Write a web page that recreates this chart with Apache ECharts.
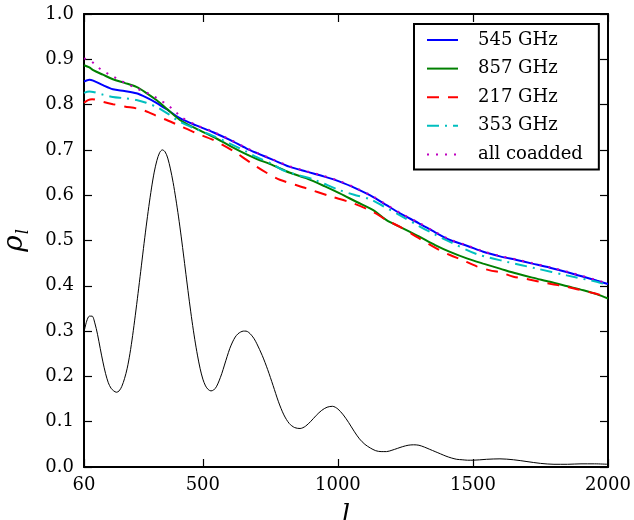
<!DOCTYPE html>
<html>
<head>
<meta charset="utf-8">
<script src="https://cdn.jsdelivr.net/npm/echarts@6/dist/echarts.min.js"></script>
<style>
  html, body { margin: 0; padding: 0; background: #fff; }
  #chart { width: 634px; height: 520px; }
</style>
</head>
<body>
<div id="chart"></div>
<script>
// ---- Data ----
const xTicks = [60, 500, 1000, 1500, 2000];
const yTicks = [0.0, 0.1, 0.2, 0.3, 0.4, 0.5, 0.6, 0.7, 0.8, 0.9, 1.0];

// Thin black reference curve (scaled power spectrum)
const lBlack = [60, 70, 80, 90, 100, 110, 120, 130, 140, 150, 160, 170, 180, 190, 200, 210, 220, 230, 240, 250, 260, 270, 280, 290, 300, 310, 320, 330, 340, 350, 360, 370, 380, 390, 400, 410, 420, 430, 440, 450, 460, 470, 480, 490, 500, 510, 520, 530, 540, 550, 560, 570, 580, 590, 600, 610, 620, 630, 640, 650, 660, 670, 680, 690, 700, 720, 740, 760, 780, 800, 820, 840, 860, 880, 900, 920, 940, 960, 980, 1000, 1020, 1040, 1060, 1080, 1100, 1120, 1140, 1160, 1180, 1200, 1220, 1240, 1260, 1280, 1300, 1320, 1340, 1360, 1380, 1400, 1420, 1440, 1460, 1480, 1500, 1550, 1600, 1650, 1700, 1750, 1800, 1850, 1900, 1950, 2000];
const vBlack = [0.298, 0.322, 0.333, 0.333, 0.318, 0.293, 0.262, 0.232, 0.206, 0.186, 0.174, 0.168, 0.165, 0.168, 0.178, 0.195, 0.218, 0.250, 0.290, 0.335, 0.383, 0.432, 0.482, 0.530, 0.575, 0.616, 0.651, 0.677, 0.694, 0.700, 0.696, 0.682, 0.658, 0.628, 0.592, 0.552, 0.508, 0.461, 0.413, 0.366, 0.322, 0.282, 0.247, 0.217, 0.194, 0.179, 0.171, 0.168, 0.170, 0.177, 0.190, 0.206, 0.225, 0.244, 0.262, 0.276, 0.287, 0.294, 0.298, 0.300, 0.300, 0.297, 0.291, 0.283, 0.272, 0.246, 0.215, 0.180, 0.144, 0.115, 0.096, 0.087, 0.085, 0.090, 0.101, 0.114, 0.125, 0.132, 0.134, 0.128, 0.115, 0.098, 0.079, 0.062, 0.050, 0.042, 0.036, 0.034, 0.034, 0.037, 0.041, 0.045, 0.048, 0.049, 0.048, 0.044, 0.039, 0.034, 0.029, 0.024, 0.020, 0.017, 0.016, 0.015, 0.015, 0.017, 0.018, 0.016, 0.012, 0.008, 0.006, 0.006, 0.007, 0.007, 0.006];

// 545 GHz
const l545 = [60, 80, 94, 130, 167, 210, 254, 290, 328, 370, 415, 475, 538, 600, 662, 700, 760, 820, 884, 950, 1007, 1070, 1131, 1180, 1230, 1300, 1360, 1415, 1480, 1538, 1600, 1662, 1720, 1785, 1850, 1909, 1960, 2000];
const rho545 = [0.851, 0.855, 0.853, 0.843, 0.834, 0.830, 0.825, 0.816, 0.804, 0.788, 0.770, 0.754, 0.739, 0.722, 0.703, 0.693, 0.678, 0.663, 0.652, 0.641, 0.630, 0.614, 0.596, 0.578, 0.560, 0.538, 0.518, 0.501, 0.488, 0.475, 0.465, 0.457, 0.449, 0.440, 0.430, 0.420, 0.411, 0.404];

// 857 GHz
const l857 = [60, 80, 94, 130, 167, 210, 254, 290, 328, 370, 415, 475, 538, 600, 662, 700, 760, 820, 884, 950, 1007, 1070, 1131, 1180, 1230, 1300, 1360, 1415, 1480, 1538, 1600, 1662, 1720, 1785, 1850, 1909, 1960, 2000];
const rho857 = [0.887, 0.882, 0.876, 0.866, 0.856, 0.848, 0.839, 0.826, 0.810, 0.789, 0.766, 0.747, 0.729, 0.709, 0.690, 0.680, 0.666, 0.650, 0.637, 0.620, 0.604, 0.585, 0.567, 0.545, 0.530, 0.509, 0.490, 0.475, 0.460, 0.449, 0.438, 0.427, 0.418, 0.409, 0.399, 0.390, 0.381, 0.372];

// 217 GHz
const l217 = [60, 75, 90, 130, 167, 210, 267, 300, 328, 370, 415, 475, 538, 612, 686, 740, 785, 884, 970, 1057, 1131, 1180, 1230, 1300, 1378, 1415, 1464, 1514, 1563, 1600, 1650, 1700, 1748, 1790, 1847, 1890, 1946, 2000];
const rho217 = [0.804, 0.810, 0.812, 0.806, 0.801, 0.796, 0.790, 0.783, 0.775, 0.765, 0.753, 0.737, 0.722, 0.698, 0.668, 0.648, 0.634, 0.615, 0.598, 0.582, 0.563, 0.545, 0.530, 0.505, 0.478, 0.468, 0.456, 0.443, 0.434, 0.430, 0.420, 0.415, 0.409, 0.404, 0.398, 0.392, 0.384, 0.375];

// 353 GHz
const l353 = [60, 80, 94, 130, 167, 210, 254, 290, 328, 370, 415, 475, 538, 600, 662, 700, 760, 797, 850, 909, 1007, 1060, 1119, 1170, 1217, 1300, 1360, 1415, 1514, 1625, 1736, 1847, 1958, 2000];
const rho353 = [0.826, 0.829, 0.828, 0.822, 0.817, 0.814, 0.810, 0.804, 0.795, 0.780, 0.762, 0.746, 0.731, 0.714, 0.696, 0.684, 0.668, 0.655, 0.645, 0.635, 0.611, 0.601, 0.591, 0.575, 0.560, 0.532, 0.513, 0.497, 0.470, 0.453, 0.438, 0.423, 0.409, 0.402];

// all coadded
const lAll = [60, 88, 112, 141, 168, 195, 223, 254, 285, 314, 341, 368, 396, 421, 475, 538, 600, 662, 700, 760, 820, 884, 950, 1007, 1070, 1131, 1180, 1230, 1300, 1360, 1415, 1480, 1538, 1600, 1662, 1720, 1785, 1850, 1909, 1960, 2000];
const rhoAll = [0.902, 0.895, 0.882, 0.871, 0.862, 0.853, 0.845, 0.836, 0.828, 0.820, 0.810, 0.800, 0.786, 0.772, 0.755, 0.740, 0.723, 0.704, 0.694, 0.679, 0.664, 0.653, 0.642, 0.631, 0.615, 0.597, 0.579, 0.561, 0.539, 0.519, 0.502, 0.489, 0.476, 0.466, 0.458, 0.450, 0.441, 0.431, 0.421, 0.412, 0.405];

const seriesNames = ['545 GHz', '857 GHz', '217 GHz', '353 GHz', 'all coadded'];

// ---- Chart ----
const zip = (xs, ys) => xs.map((x, i) => [x, ys[i]]);
const FONT = 'DejaVu Serif';

const chart = echarts.init(document.getElementById('chart'), null, { renderer: 'canvas' });

const tickStyle = { show: true, inside: true, length: 8, lineStyle: { color: '#000', width: 1.2 } };
const axisLineStyle = { show: true, onZero: false, lineStyle: { color: '#000', width: 2 } };

function lineSeries(name, xs, ys, color, type, width) {
  return {
    name: name, type: 'line', xAxisIndex: 0, yAxisIndex: 0,
    data: zip(xs, ys), showSymbol: false, symbol: 'none', smooth: 0.3,
    lineStyle: { color: color, width: width, type: type, cap: 'butt' },
    itemStyle: { color: color },
    emphasis: { disabled: true }, animation: false, z: 3
  };
}

const option = {
  animation: false,
  backgroundColor: '#fff',
  grid: { left: 84, right: 26, top: 14, bottom: 53, containLabel: false, outerBoundsMode: 'none' },
  legend: {
    data: seriesNames,
    orient: 'vertical',
    left: 414, top: 24,
    padding: [6, 16, 5, 12],
    itemGap: 8.6,
    itemWidth: 31,
    itemHeight: 14,
    borderColor: '#000', borderWidth: 2, borderRadius: 0,
    backgroundColor: '#fff',
    itemStyle: { opacity: 0 },
    textStyle: { fontFamily: FONT, fontSize: 18, color: '#000', lineHeight: 20, padding: [0, 0, 0, 15] },
    selectedMode: false,
    z: 10
  },
  xAxis: [
    {
      type: 'value', position: 'bottom', min: 60, max: 2000,
      axisLine: axisLineStyle,
      axisTick: Object.assign({ customValues: xTicks }, tickStyle),
      axisLabel: { customValues: xTicks, fontFamily: FONT, fontSize: 18, color: '#000', margin: 9,
        showMinLabel: true, showMaxLabel: true, formatter: v => String(v) },
      splitLine: { show: false },
      name: 'l', nameLocation: 'middle', nameGap: 36,
      nameTextStyle: { fontFamily: FONT, fontStyle: 'italic', fontSize: 26, color: '#000' }
    },
    {
      type: 'value', position: 'top', min: 60, max: 2000,
      axisLine: axisLineStyle,
      axisTick: Object.assign({ customValues: xTicks }, tickStyle),
      axisLabel: { show: false },
      splitLine: { show: false }
    }
  ],
  yAxis: [
    {
      type: 'value', position: 'left', min: 0, max: 1, interval: 0.1,
      axisLine: axisLineStyle,
      axisTick: tickStyle,
      axisLabel: { fontFamily: FONT, fontSize: 18, color: '#000', margin: 10,
        formatter: v => v.toFixed(1) },
      splitLine: { show: false },
      name: '{a|ρ}{b|l}', nameLocation: 'middle', nameGap: 52, nameRotate: 90,
      nameTextStyle: {
        color: '#000',
        rich: {
          a: { fontFamily: FONT, fontStyle: 'italic', fontSize: 28, color: '#000', lineHeight: 34, verticalAlign: 'middle' },
          b: { fontFamily: FONT, fontStyle: 'italic', fontSize: 16, color: '#000', lineHeight: 34, verticalAlign: 'bottom', padding: [0, 0, 0, 1] }
        }
      }
    },
    {
      type: 'value', position: 'right', min: 0, max: 1, interval: 0.1,
      axisLine: axisLineStyle,
      axisTick: tickStyle,
      axisLabel: { show: false },
      splitLine: { show: false }
    }
  ],
  series: [
    {
      name: 'Cl', type: 'line', xAxisIndex: 0, yAxisIndex: 0,
      data: zip(lBlack, vBlack), showSymbol: false, symbol: 'none', smooth: 0.3,
      lineStyle: { color: '#000', width: 1 }, itemStyle: { color: '#000' },
      emphasis: { disabled: true }, z: 2
    },
    lineSeries('545 GHz', l545, rho545, '#0000ff', 'solid', 2),
    lineSeries('857 GHz', l857, rho857, '#008000', 'solid', 2),
    lineSeries('217 GHz', l217, rho217, '#ff0000', [12, 9], 2),
    lineSeries('353 GHz', l353, rho353, '#00bfbf', [12, 6, 2, 6], 2),
    lineSeries('all coadded', lAll, rhoAll, '#bf00bf', [2, 7], 2)
  ]
};

chart.setOption(option);
</script>
</body>
</html>
